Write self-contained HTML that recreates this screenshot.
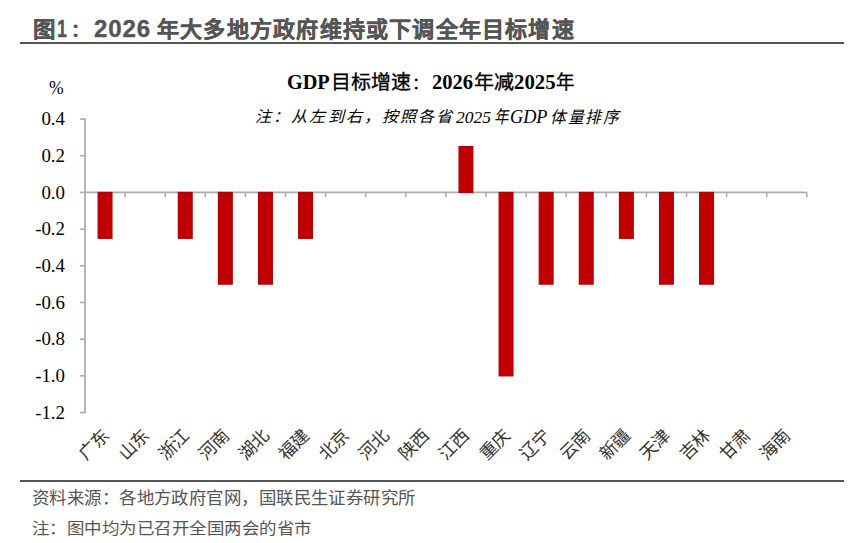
<!DOCTYPE html>
<html lang="zh-CN"><head><meta charset="utf-8">
<style>
html,body{margin:0;padding:0;background:#fff;}
body{width:860px;height:543px;position:relative;overflow:hidden;}
.t{position:absolute;white-space:nowrap;transform-origin:0 0;line-height:normal;}
svg{position:absolute;left:0;top:0;}
.xl{font-family:"Liberation Serif",serif;font-size:17.5px;color:#333;transform-origin:100% 16px;transform:rotate(-45deg);line-height:16px;}
</style></head><body>
<div class="t" style="left:32.52px;top:10.86px;transform:scale(0.9762,0.9545);font-family:'Liberation Sans',sans-serif;font-weight:bold;font-size:23px;color:#555;-webkit-text-stroke:0.35px #555">图</div>
<div class="t" style="left:56.73px;top:15.5px;transform:scale(0.7727,1.0);font-family:'Liberation Sans',sans-serif;font-weight:bold;font-size:23px;color:#555;-webkit-text-stroke:0.35px #555">1</div>
<div class="t" style="left:71.1px;top:15.5px;transform:scale(0.8,0.75);font-family:'Liberation Sans',sans-serif;font-weight:bold;font-size:23px;color:#555;-webkit-text-stroke:0.35px #555">：</div>
<div class="t" style="left:93.95px;top:15.5px;transform:scale(1.0481,1.0);font-family:'Liberation Sans',sans-serif;font-weight:bold;font-size:23px;color:#555;-webkit-text-stroke:0.35px #555;letter-spacing:0.8px">2026</div>
<div class="t" style="left:157.2px;top:11.83px;transform:scale(1.0007,0.9651);font-family:'Liberation Sans',sans-serif;font-weight:bold;font-size:22px;color:#555;-webkit-text-stroke:0.35px #555;letter-spacing:1.2px">年大多地方政府维持或下调全年目标增速</div>
<div class="t" style="left:48.5px;top:77.73px;transform:scale(0.9733,1.0231);font-family:'Liberation Serif',serif;font-size:18px;color:#000">%</div>
<div class="t" style="left:287.49px;top:70.5px;transform:scale(1.0122,1.0);font-family:'Liberation Serif',serif;font-weight:bold;font-size:20px;color:#000">GDP</div>
<div class="t" style="left:331.36px;top:66.5px;transform:scale(1.0479,1.0);font-family:'Liberation Serif',serif;font-weight:normal;font-size:19px;color:#000;-webkit-text-stroke:0.35px #000">目标增速</div>
<div class="t" style="left:411.88px;top:70.73px;transform:scale(0.875,0.8077);font-family:'Liberation Serif',serif;font-weight:normal;font-size:19px;color:#000;-webkit-text-stroke:0.35px #000">：</div>
<div class="t" style="left:432.47px;top:69.86px;transform:scale(1.0256,1.0357);font-family:'Liberation Serif',serif;font-weight:bold;font-size:20px;color:#000">2026</div>
<div class="t" style="left:473.95px;top:66.5px;transform:scale(1.0541,1.0);font-family:'Liberation Serif',serif;font-weight:normal;font-size:19px;color:#000;-webkit-text-stroke:0.35px #000">年减</div>
<div class="t" style="left:514.46px;top:69.86px;transform:scale(1.0395,1.0357);font-family:'Liberation Serif',serif;font-weight:bold;font-size:20px;color:#000">2025</div>
<div class="t" style="left:556.03px;top:66.5px;transform:scale(0.9722,1.0);font-family:'Liberation Serif',serif;font-weight:normal;font-size:19px;color:#000;-webkit-text-stroke:0.35px #000">年</div>
<div class="t" style="left:255.49px;top:103.66px;transform:scale(1.0076,0.9688);font-family:'Liberation Serif',serif;font-style:italic;font-size:16px;letter-spacing:2px;color:#000">注：从左到右，按照各省</div>
<div class="t" style="left:456.0px;top:107.62px;transform:scale(0.9722,0.9615);font-family:'Liberation Serif',serif;font-style:italic;font-size:18px;color:#000">2025</div>
<div class="t" style="left:494.2px;top:101.86px;transform:scale(0.9,1.1071);font-family:'Liberation Serif',serif;font-style:italic;font-size:16px;letter-spacing:2px;color:#000">年</div>
<div class="t" style="left:510.49px;top:106.5px;transform:scale(1.0139,1.0);font-family:'Liberation Serif',serif;font-style:italic;font-size:18px;color:#000">GDP</div>
<div class="t" style="left:550.03px;top:103.33px;transform:scale(0.9857,1.0333);font-family:'Liberation Serif',serif;font-style:italic;font-size:16px;letter-spacing:2px;color:#000">体量排序</div>
<div class="t" style="left:32.17px;top:484.85px;transform:scale(1.0255,0.9706);font-family:'Liberation Sans',sans-serif;font-size:17px;color:#555">资料来源：各地方政府官网，国联民生证券研究所</div>
<div class="t" style="left:32.17px;top:514.92px;transform:scale(1.0289,0.9353);font-family:'Liberation Sans',sans-serif;font-size:17px;color:#555">注：图中均为已召开全国两会的省市</div>
<div style="position:absolute;left:20px;top:42px;width:823.5px;height:2.4px;background:#555555"></div>
<svg width="860" height="543" viewBox="0 0 860 543">
<line x1="85.0" y1="118.29" x2="85.0" y2="413.33" stroke="#ADADAD" stroke-width="1.8"/>
<line x1="80" y1="119.09" x2="85.0" y2="119.09" stroke="#ADADAD" stroke-width="1.6"/>
<line x1="80" y1="155.77" x2="85.0" y2="155.77" stroke="#ADADAD" stroke-width="1.6"/>
<line x1="80" y1="192.45" x2="85.0" y2="192.45" stroke="#ADADAD" stroke-width="1.6"/>
<line x1="80" y1="229.13" x2="85.0" y2="229.13" stroke="#ADADAD" stroke-width="1.6"/>
<line x1="80" y1="265.81" x2="85.0" y2="265.81" stroke="#ADADAD" stroke-width="1.6"/>
<line x1="80" y1="302.49" x2="85.0" y2="302.49" stroke="#ADADAD" stroke-width="1.6"/>
<line x1="80" y1="339.17" x2="85.0" y2="339.17" stroke="#ADADAD" stroke-width="1.6"/>
<line x1="80" y1="375.85" x2="85.0" y2="375.85" stroke="#ADADAD" stroke-width="1.6"/>
<line x1="80" y1="412.53" x2="85.0" y2="412.53" stroke="#ADADAD" stroke-width="1.6"/>
<line x1="85.0" y1="192.45" x2="806.80" y2="192.45" stroke="#ADADAD" stroke-width="1.8"/>
<line x1="125.10" y1="192.45" x2="125.10" y2="197.25" stroke="#ADADAD" stroke-width="1.6"/>
<line x1="165.20" y1="192.45" x2="165.20" y2="197.25" stroke="#ADADAD" stroke-width="1.6"/>
<line x1="205.30" y1="192.45" x2="205.30" y2="197.25" stroke="#ADADAD" stroke-width="1.6"/>
<line x1="245.40" y1="192.45" x2="245.40" y2="197.25" stroke="#ADADAD" stroke-width="1.6"/>
<line x1="285.50" y1="192.45" x2="285.50" y2="197.25" stroke="#ADADAD" stroke-width="1.6"/>
<line x1="325.60" y1="192.45" x2="325.60" y2="197.25" stroke="#ADADAD" stroke-width="1.6"/>
<line x1="365.70" y1="192.45" x2="365.70" y2="197.25" stroke="#ADADAD" stroke-width="1.6"/>
<line x1="405.80" y1="192.45" x2="405.80" y2="197.25" stroke="#ADADAD" stroke-width="1.6"/>
<line x1="445.90" y1="192.45" x2="445.90" y2="197.25" stroke="#ADADAD" stroke-width="1.6"/>
<line x1="486.00" y1="192.45" x2="486.00" y2="197.25" stroke="#ADADAD" stroke-width="1.6"/>
<line x1="526.10" y1="192.45" x2="526.10" y2="197.25" stroke="#ADADAD" stroke-width="1.6"/>
<line x1="566.20" y1="192.45" x2="566.20" y2="197.25" stroke="#ADADAD" stroke-width="1.6"/>
<line x1="606.30" y1="192.45" x2="606.30" y2="197.25" stroke="#ADADAD" stroke-width="1.6"/>
<line x1="646.40" y1="192.45" x2="646.40" y2="197.25" stroke="#ADADAD" stroke-width="1.6"/>
<line x1="686.50" y1="192.45" x2="686.50" y2="197.25" stroke="#ADADAD" stroke-width="1.6"/>
<line x1="726.60" y1="192.45" x2="726.60" y2="197.25" stroke="#ADADAD" stroke-width="1.6"/>
<line x1="766.70" y1="192.45" x2="766.70" y2="197.25" stroke="#ADADAD" stroke-width="1.6"/>
<line x1="806.80" y1="192.45" x2="806.80" y2="197.25" stroke="#ADADAD" stroke-width="1.6"/>
<rect x="98.15" y="192.45" width="13.8" height="45.85" fill="#C00000" stroke="#B00008" stroke-width="1.2"/>
<rect x="178.35" y="192.45" width="13.8" height="45.85" fill="#C00000" stroke="#B00008" stroke-width="1.2"/>
<rect x="218.45" y="192.45" width="13.8" height="91.70" fill="#C00000" stroke="#B00008" stroke-width="1.2"/>
<rect x="258.55" y="192.45" width="13.8" height="91.70" fill="#C00000" stroke="#B00008" stroke-width="1.2"/>
<rect x="298.65" y="192.45" width="13.8" height="45.85" fill="#C00000" stroke="#B00008" stroke-width="1.2"/>
<rect x="459.05" y="146.60" width="13.8" height="45.85" fill="#C00000" stroke="#B00008" stroke-width="1.2"/>
<rect x="499.15" y="192.45" width="13.8" height="183.40" fill="#C00000" stroke="#B00008" stroke-width="1.2"/>
<rect x="539.25" y="192.45" width="13.8" height="91.70" fill="#C00000" stroke="#B00008" stroke-width="1.2"/>
<rect x="579.35" y="192.45" width="13.8" height="91.70" fill="#C00000" stroke="#B00008" stroke-width="1.2"/>
<rect x="619.45" y="192.45" width="13.8" height="45.85" fill="#C00000" stroke="#B00008" stroke-width="1.2"/>
<rect x="659.55" y="192.45" width="13.8" height="91.70" fill="#C00000" stroke="#B00008" stroke-width="1.2"/>
<rect x="699.65" y="192.45" width="13.8" height="91.70" fill="#C00000" stroke="#B00008" stroke-width="1.2"/>
</svg>
<div class="t yl" style="left:-135.25px;top:109.33px;width:200px;text-align:right;transform-origin:100% 0;transform:scale(1.0481,1.0231);font-family:'Liberation Serif',serif;font-size:18px;color:#000">0.4</div>
<div class="t yl" style="left:-135.25px;top:146.01px;width:200px;text-align:right;transform-origin:100% 0;transform:scale(1.0481,1.0231);font-family:'Liberation Serif',serif;font-size:18px;color:#000">0.2</div>
<div class="t yl" style="left:-135.25px;top:182.69px;width:200px;text-align:right;transform-origin:100% 0;transform:scale(1.0481,1.0231);font-family:'Liberation Serif',serif;font-size:18px;color:#000">0.0</div>
<div class="t yl" style="left:-135.25px;top:219.37px;width:200px;text-align:right;transform-origin:100% 0;transform:scale(1.0481,1.0231);font-family:'Liberation Serif',serif;font-size:18px;color:#000">-0.2</div>
<div class="t yl" style="left:-135.25px;top:256.05px;width:200px;text-align:right;transform-origin:100% 0;transform:scale(1.0481,1.0231);font-family:'Liberation Serif',serif;font-size:18px;color:#000">-0.4</div>
<div class="t yl" style="left:-135.25px;top:292.73px;width:200px;text-align:right;transform-origin:100% 0;transform:scale(1.0481,1.0231);font-family:'Liberation Serif',serif;font-size:18px;color:#000">-0.6</div>
<div class="t yl" style="left:-135.25px;top:329.41px;width:200px;text-align:right;transform-origin:100% 0;transform:scale(1.0481,1.0231);font-family:'Liberation Serif',serif;font-size:18px;color:#000">-0.8</div>
<div class="t yl" style="left:-135.25px;top:366.09px;width:200px;text-align:right;transform-origin:100% 0;transform:scale(1.0481,1.0231);font-family:'Liberation Serif',serif;font-size:18px;color:#000">-1.0</div>
<div class="t yl" style="left:-135.25px;top:402.77px;width:200px;text-align:right;transform-origin:100% 0;transform:scale(1.0481,1.0231);font-family:'Liberation Serif',serif;font-size:18px;color:#000">-1.2</div>
<div class="t xl" style="left:-89.45px;top:422.00px;width:200px;text-align:right;">广东</div>
<div class="t xl" style="left:-49.35px;top:422.00px;width:200px;text-align:right;">山东</div>
<div class="t xl" style="left:-9.25px;top:422.00px;width:200px;text-align:right;">浙江</div>
<div class="t xl" style="left:30.85px;top:422.00px;width:200px;text-align:right;">河南</div>
<div class="t xl" style="left:70.95px;top:422.00px;width:200px;text-align:right;">湖北</div>
<div class="t xl" style="left:111.05px;top:422.00px;width:200px;text-align:right;">福建</div>
<div class="t xl" style="left:151.15px;top:422.00px;width:200px;text-align:right;">北京</div>
<div class="t xl" style="left:191.25px;top:422.00px;width:200px;text-align:right;">河北</div>
<div class="t xl" style="left:231.35px;top:422.00px;width:200px;text-align:right;">陕西</div>
<div class="t xl" style="left:271.45px;top:422.00px;width:200px;text-align:right;">江西</div>
<div class="t xl" style="left:311.55px;top:422.00px;width:200px;text-align:right;">重庆</div>
<div class="t xl" style="left:351.65px;top:422.00px;width:200px;text-align:right;">辽宁</div>
<div class="t xl" style="left:391.75px;top:422.00px;width:200px;text-align:right;">云南</div>
<div class="t xl" style="left:431.85px;top:422.00px;width:200px;text-align:right;">新疆</div>
<div class="t xl" style="left:471.95px;top:422.00px;width:200px;text-align:right;">天津</div>
<div class="t xl" style="left:512.05px;top:422.00px;width:200px;text-align:right;">吉林</div>
<div class="t xl" style="left:552.15px;top:422.00px;width:200px;text-align:right;">甘肃</div>
<div class="t xl" style="left:592.25px;top:422.00px;width:200px;text-align:right;">海南</div>
<div style="position:absolute;left:20px;top:479.7px;width:823.5px;height:2px;background:#555555"></div>
</body></html>
